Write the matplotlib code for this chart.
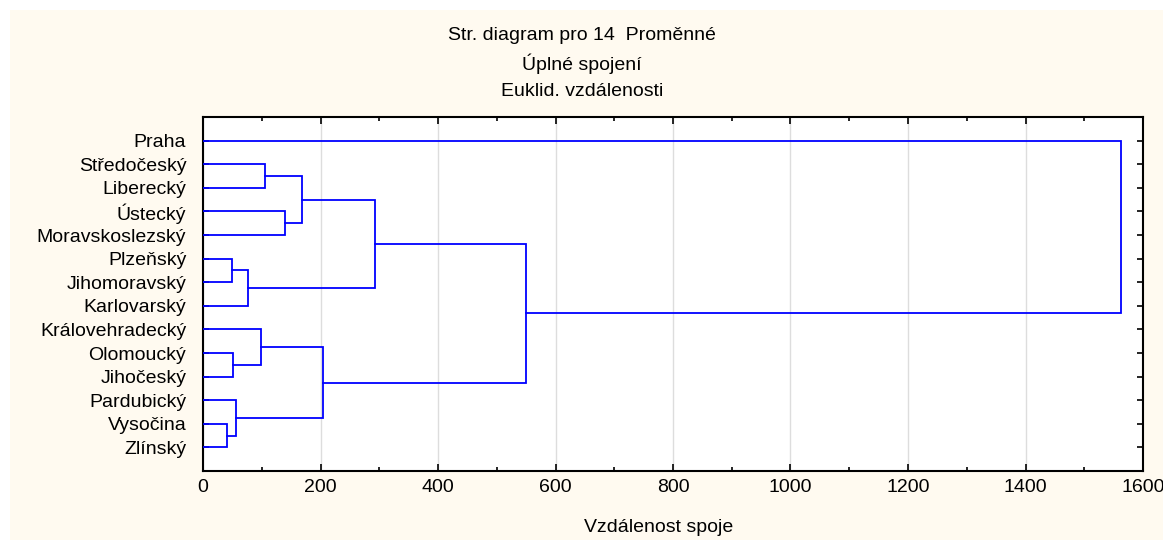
import matplotlib
matplotlib.use("Agg")
import matplotlib.pyplot as plt
from matplotlib.patches import Rectangle
from matplotlib.ticker import MultipleLocator

plt.rcParams["font.family"] = ["Liberation Sans", "DejaVu Sans"]

# leaves, top to bottom
leaves = ["Praha", "Středočeský", "Liberecký", "Ústecký", "Moravskoslezský",
          "Plzeňský", "Jihomoravský", "Karlovarský", "Královehradecký",
          "Olomoucký", "Jihočeský", "Pardubický", "Vysočina", "Zlínský"]

# merges: new cluster ids start at len(leaves)
merge_left = [1, 3, 14, 5, 17, 16, 9, 8, 12, 11, 21, 19, 0]
merge_right = [2, 4, 15, 6, 7, 18, 10, 20, 13, 22, 23, 24, 25]
merge_height = [105, 140, 169, 49, 76, 292, 51, 99, 40, 57, 204, 549, 1563]

titles = ["Str. diagram pro 14  Proměnné", "Úplné spojení", "Euklid. vzdálenosti"]
xlabel = "Vzdálenost spoje"

fig = plt.figure(figsize=(11.63, 5.40), dpi=100, facecolor="white")
fig.patches.append(Rectangle((10 / 1163, 0), 1, 530 / 540, transform=fig.transFigure,
                             facecolor="#FFFAF0", edgecolor="none", zorder=-10))

ax = fig.add_axes([203 / 1163, 69 / 540, 940 / 1163, 354 / 540])
ax.set_facecolor("white")

# positions of clusters
ypos = {i: float(i) for i in range(len(leaves))}
height = {i: 0.0 for i in range(len(leaves))}
n = len(leaves)
for k, (a, b, h) in enumerate(zip(merge_left, merge_right, merge_height)):
    ya, yb = ypos[a], ypos[b]
    ax.plot([height[a], h, h, height[b]], [ya, ya, yb, yb], color="#0000FF", lw=1.3,
            solid_joinstyle="miter", zorder=3)
    ypos[n + k] = (ya + yb) / 2
    height[n + k] = h

ax.set_xlim(0, 1600)
ax.set_ylim(len(leaves), -1)
ax.xaxis.set_major_locator(MultipleLocator(200))
ax.xaxis.set_minor_locator(MultipleLocator(100))
ax.set_yticks(range(len(leaves)))
ax.set_yticklabels(leaves)
ax.grid(axis="x", which="major", color="#DDDDDD", lw=1, zorder=0)

ax.tick_params(axis="x", which="both", direction="in", top=True, bottom=True,
               labelsize=14, pad=6, width=1.2)
ax.tick_params(axis="x", which="major", length=5)
ax.tick_params(axis="x", which="minor", length=3)
ax.tick_params(axis="y", direction="in", left=True, right=True, length=4,
               width=1.2, labelsize=14, pad=12)
for s in ax.spines.values():
    s.set_linewidth(1.5)

for i, t in enumerate(titles):
    fig.text(582 / 1163, 1 - [35, 64, 92][i] / 540, t, ha="center", va="center", fontsize=14)
fig.text(659 / 1163, 1 - 528 / 540, xlabel, ha="center", va="center", fontsize=14)

plt.savefig("out.png", dpi=100, facecolor=fig.get_facecolor())
